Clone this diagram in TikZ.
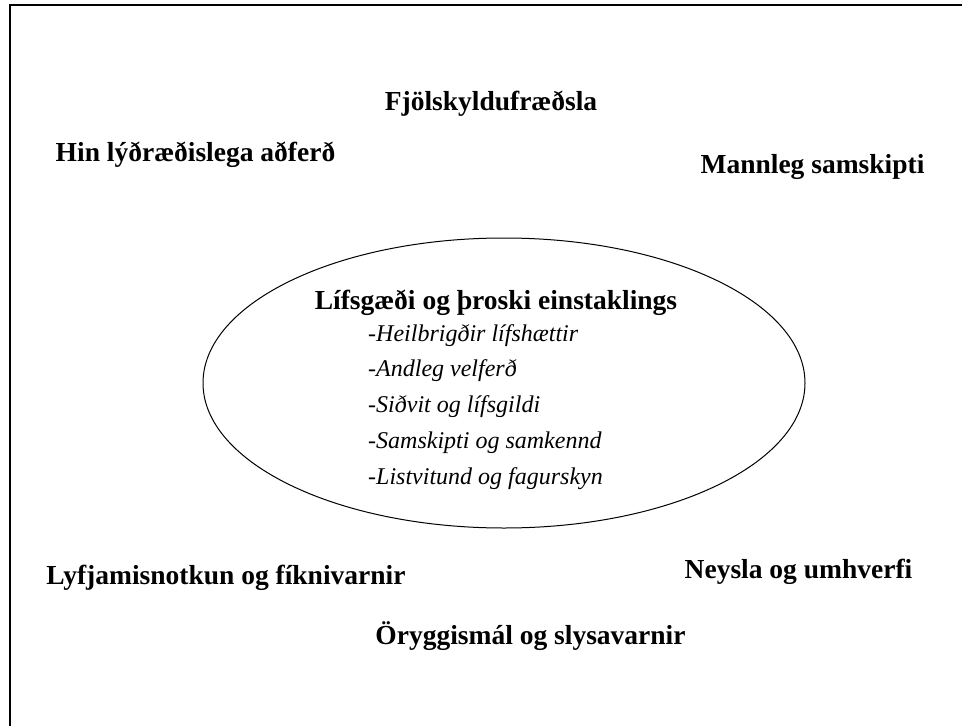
\documentclass[tikz,border=0pt]{standalone}
\usepackage{fontspec}
\setmainfont{Liberation Serif}
\usetikzlibrary{positioning,shapes.geometric}
\tikzset{
  topic/.style={font=\fontsize{27.5}{33}\selectfont\bfseries,inner sep=0pt},
  core/.style={draw,ellipse,line width=1pt,minimum width=602pt,minimum height=290pt,inner sep=0pt},
  lifeitem/.style={font=\fontsize{24}{29}\selectfont\itshape,inner sep=0pt,text height=17pt,text depth=5pt},
  pageframe/.style={line width=2pt}
}
\begin{document}
\begin{tikzpicture}[x=1pt,y=-1pt,node distance=13.5pt]
  \useasboundingbox (0,0) rectangle (962,726);
  % open frame, top and left only
  \coordinate (tl) at (10,5);
  \coordinate (tr) at (962,5);
  \coordinate (bl) at (10,726);
  \draw[pageframe] (tr) -- (tl) -- (bl);

  \node[core] (life) at (504,383) {};
  \node[topic] (title) at (496,303) {Lífsgæði og þroski einstaklings};
  \node[lifeitem,anchor=west] (it1) at (368,335) {-Heilbrigðir lífshættir};
  \node[lifeitem,below=of it1.south west,anchor=north west] (it2) {-Andleg velferð};
  \node[lifeitem,below=of it2.south west,anchor=north west] (it3) {-Siðvit og lífsgildi};
  \node[lifeitem,below=of it3.south west,anchor=north west] (it4) {-Samskipti og samkennd};
  \node[lifeitem,below=of it4.south west,anchor=north west] (it5) {-Listvitund og fagurskyn};

  \node[topic] (family) at (491,104) {Fjölskyldufræðsla};
  \node[topic] (democ) at (195.5,155) {Hin lýðræðislega aðferð};
  \node[topic] (human) at (812.5,167) {Mannleg samskipti};
  \node[topic] (drugs) at (226,578) {Lyfjamisnotkun og fíknivarnir};
  \node[topic] (consume) at (798.5,572) {Neysla og umhverfi};
  \node[topic] (safety) at (530.5,636) {Öryggismál og slysavarnir};
\end{tikzpicture}
\end{document}
